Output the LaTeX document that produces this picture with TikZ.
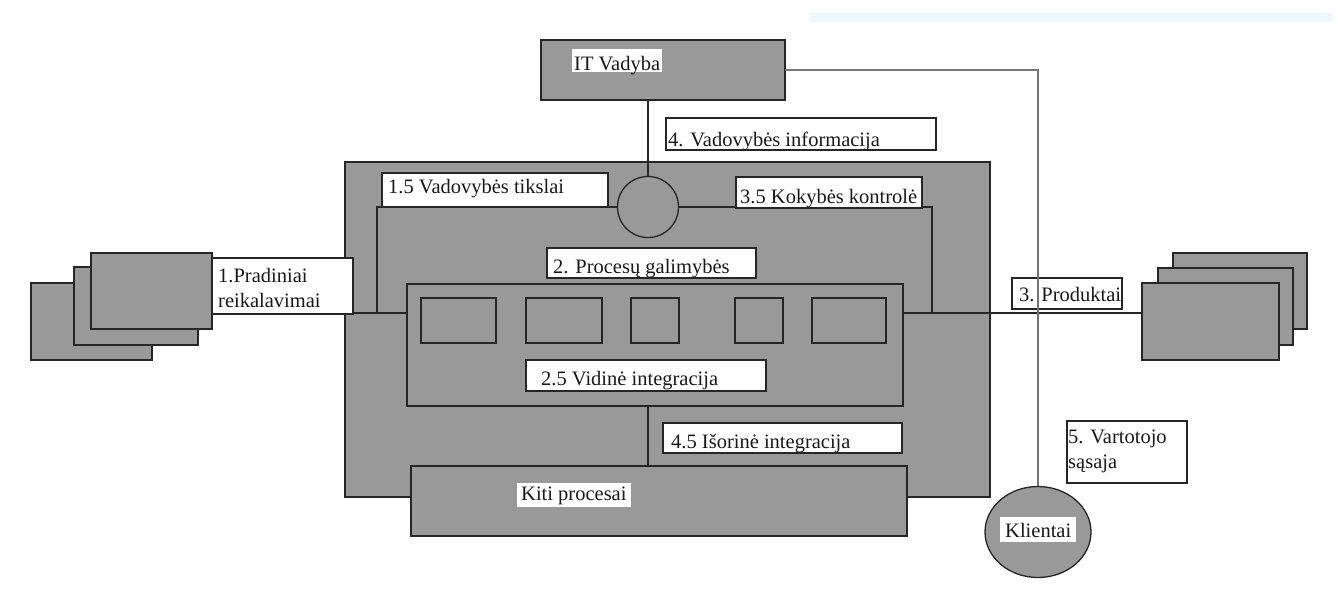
\documentclass[tikz,border=0pt]{standalone}
\usepackage{fontspec}
\setmainfont{Liberation Serif}
\usetikzlibrary{shapes.geometric}
\definecolor{boxgray}{RGB}{153,153,153}
\definecolor{edge}{RGB}{38,38,38}
\definecolor{wire}{RGB}{118,118,118}
\definecolor{haze}{RGB}{238,248,255}
\definecolor{ink}{RGB}{25,25,25}

\begin{document}
\begin{tikzpicture}[x=1pt,y=-1pt,
  sz/.style 2 args={minimum width=#1pt,minimum height=#2pt},
  gbox/.style={draw=edge,fill=boxgray,line width=1.3pt,inner sep=0pt,outer sep=0pt,anchor=north west},
  lbl/.style={draw=edge,fill=white,line width=1.3pt,inner sep=0pt,outer sep=0pt,anchor=north west},
  txt/.style={font=\fontsize{20.5}{24.5}\selectfont,text=ink,inner sep=0pt,anchor=base west,align=left},
  hl/.style={txt,fill=white,inner xsep=2pt,inner ysep=0pt},
  link/.style={draw=edge,line width=1.3pt},
  wireline/.style={draw=wire,line width=1.2pt}]

  % page frame
  \useasboundingbox (0,0) rectangle (1338,592);
  \fill[haze] (810,13) rectangle (1332,22);

  % enterprise block
  \node[gbox,sz={645}{335}] (outer) at (345,162) {};
  \node[gbox,sz={244}{60}] (it) at (541,40) {};

  % incoming requirements stack
  \node[gbox,sz={121}{77}] (lb) at (31,283) {};
  \node[gbox,sz={124}{78}] (lm) at (74,267) {};
  \node[gbox,sz={121}{76}] (lf) at (91,253) {};

  % product stack
  \node[gbox,sz={134}{76}] (rb) at (1173,253) {};
  \node[gbox,sz={135}{77}] (rm) at (1158,268) {};
  \node[gbox,sz={137}{77}] (rf) at (1142,283) {};

  % process capabilities
  \node[gbox,sz={496}{122}] (inner) at (407,284) {};
  \node[gbox,sz={75}{45}] (p1) at (421,298) {};
  \node[gbox,sz={76}{45}] (p2) at (526,298) {};
  \node[gbox,sz={48}{45}] (p3) at (631,298) {};
  \node[gbox,sz={48}{45}] (p4) at (735,298) {};
  \node[gbox,sz={74}{45}] (p5) at (812,298) {};

  \node[gbox,sz={496}{70}] (kiti) at (411,466) {};
  \node[draw=edge,fill=boxgray,line width=1.3pt,ellipse,inner sep=0pt,minimum width=106pt,minimum height=91pt] (kl) at (1038,532) {};
  \node[draw=edge,fill=boxgray,line width=1.3pt,circle,inner sep=0pt,minimum size=61pt] (circ) at (648,207) {};

  % connectors
  \coordinate (jl) at (377,313);
  \coordinate (jr) at (932,313);
  \draw[link] (circ.north |- it.south) -- (circ.north);
  \draw[link] (circ.west) -| (jl);
  \draw[link] (circ.east) -| (jr);
  \draw[link] (lf.east |- jl) -- (inner.west |- jl);
  \draw[link] (inner.east |- jr) -- (rf.west |- jr);
  \draw[link] (circ.south |- inner.south) -- (circ.south |- kiti.north);

  % labels
  \node[lbl,sz={270}{32}] (l4) at (666,118) {};
  \node[txt] (t4) at (668,146) {4. Vadovybės informacija};
  \node[lbl,sz={226}{34}] (l15) at (382,173) {};
  \node[txt] (t15) at (388,193) {1.5 Vadovybės tikslai};
  \node[lbl,sz={186}{31}] (l35) at (736,177) {};
  \node[txt] (t35) at (740,203) {3.5 Kokybės kontrolė};
  \node[lbl,sz={209}{30}] (l2) at (547,248) {};
  \node[txt] (t2) at (553,273) {2. Procesų galimybės};
  \node[lbl,sz={240}{31}] (l25) at (526,360) {};
  \node[txt] (t25) at (541,385) {2.5 Vidinė integracija};
  \node[lbl,sz={239}{30}] (l45) at (663,423) {};
  \node[txt] (t45) at (671,448) {4.5 Išorinė integracija};
  \node[lbl,sz={141}{56}] (l1) at (212,258) {};
  \node[txt] (t1) at (218,307) {1.Pradiniai\\reikalavimai};
  \node[lbl,sz={110}{31}] (l3) at (1012,278) {};
  \node[txt] (t3) at (1019,301) {3. Produktai};
  \node[lbl,sz={120}{62}] (l5) at (1067,421) {};
  \node[txt] (t5) at (1068,468) {5. Vartotojo\\sąsaja};

  % highlighted names
  \node[hl,text height=21pt,text depth=2pt] (itname) at (572,70) {IT Vadyba};
  \node[hl,text height=17pt,text depth=7pt,inner xsep=4pt] (kitiname) at (517,500) {Kiti procesai};
  \node[hl,text height=20pt,text depth=5pt,inner xsep=5pt] (klname) at (1000,537) {Klientai};

  % user interface line
  \draw[wireline] (it.east) -| (kl.north);
\end{tikzpicture}
\end{document}
